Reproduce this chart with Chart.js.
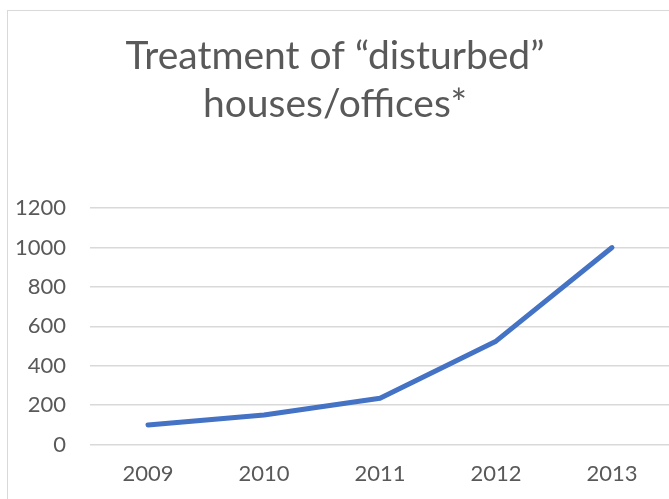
<!DOCTYPE html>
<html>
<head>
<meta charset="utf-8">
<script src="https://cdn.jsdelivr.net/npm/chart.js@4"></script>
<style>
html,body{margin:0;padding:0;background:#fff;overflow:hidden;width:669px;height:499px;}
#frame{position:absolute;left:7px;top:10px;width:700px;height:520px;border:1.5px solid #d9d9d9;box-sizing:border-box;}
#wrap{position:absolute;left:0;top:0;width:690px;height:512px;}
</style>
</head>
<body>
<div id="frame"></div>
<div id="wrap"><canvas id="c" width="690" height="512"></canvas></div>
<script>
const categories = ["2009", "2010", "2011", "2012", "2013"];
const seriesValues = [100, 150, 235, 525, 1000];
const yTicks = [0, 200, 400, 600, 800, 1000, 1200];
const titleLines = ["Treatment of \u201cdisturbed\u201d", "houses/offices*"];

const FONT = "Lato, 'Open Sans', sans-serif";
const TXT = "#595959";

new Chart(document.getElementById('c'), {
  type: 'line',
  data: {
    labels: categories,
    datasets: [{
      label: 'Treatment',
      data: seriesValues,
      borderColor: '#4472C4',
      backgroundColor: '#4472C4',
      borderWidth: 5,
      pointRadius: 0,
      tension: 0,
      borderCapStyle: 'round',
      borderJoinStyle: 'round'
    }]
  },
  options: {
    responsive: false,
    animation: false,
    devicePixelRatio: 1,
    layout: { padding: { left: 0, right: 20, top: 0, bottom: 9 } },
    plugins: {
      legend: { display: false },
      tooltip: { enabled: false },
      title: {
        display: true,
        text: titleLines,
        color: TXT,
        font: { family: FONT, size: 39, weight: 'normal', lineHeight: 1.22 },
        padding: { top: 33, bottom: 80 }
      }
    },
    scales: {
      x: {
        offset: true,
        grid: { display: false, drawTicks: false },
        border: { display: false },
        ticks: { color: TXT, font: { family: FONT, size: 22 }, padding: 16 }
      },
      y: {
        min: 0, max: 1200,
        afterBuildTicks: (s) => { s.ticks = yTicks.map(v => ({ value: v })); },
        afterFit: (s) => { s.width = 90; },
        grid: { color: '#d9d9d9', lineWidth: 1.5, drawTicks: false },
        border: { display: false },
        ticks: { color: TXT, font: { family: FONT, size: 22 }, padding: 24, callback: (v) => String(v) }
      }
    }
  }
});
</script>
</body>
</html>
